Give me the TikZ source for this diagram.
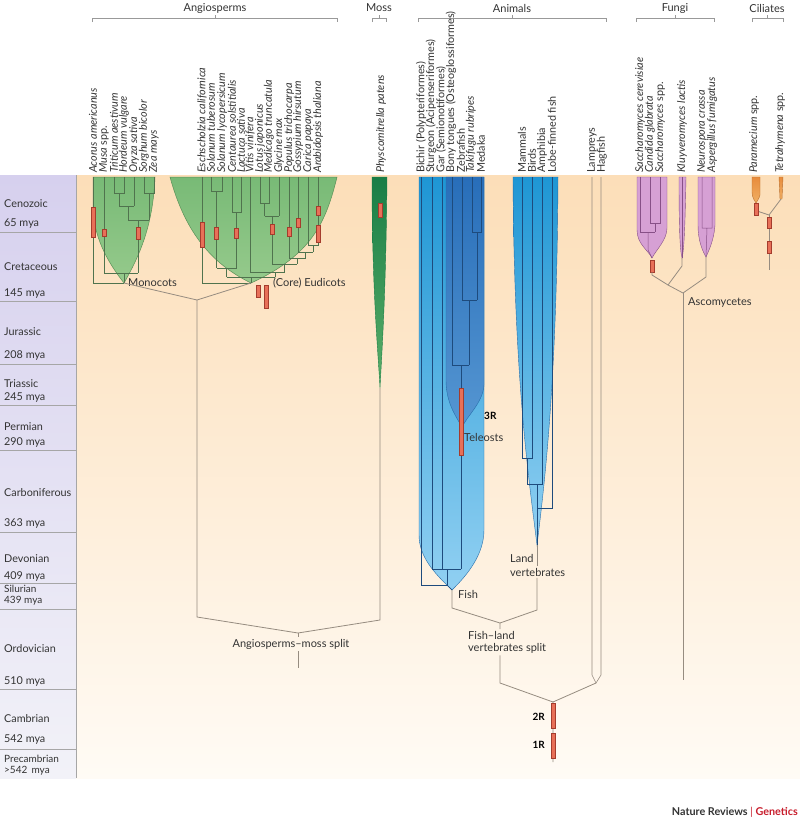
\documentclass[tikz,border=0pt]{standalone}
\usepackage{fontspec}
\setmainfont{Lato}
\begin{document}
\begin{tikzpicture}[x=1pt,y=-1pt,
  conn/.style={draw=conn, line width=0.8pt},
  gtree/.style={draw=grline, line width=0.5pt},
  btree/.style={draw=blline, line width=0.5pt},
  ptree/.style={draw=pinkdraw, line width=0.5pt},
  dupbar/.style={fill=barc, draw=bardraw, line width=0.4pt},
  sp/.style={rotate=90, anchor=west, inner sep=0pt, font=\fontsize{10.8}{12}\selectfont, text=txt},
  per/.style={anchor=west, inner sep=0pt, font=\fontsize{10.8}{13}\selectfont, text=txt},
  persm/.style={anchor=west, inner sep=0pt, font=\fontsize{10}{11}\selectfont, text=txt},
  grp/.style={font=\fontsize{11}{13}\selectfont, text=txt, inner sep=0pt},
  lbl/.style={font=\fontsize{11}{13}\selectfont, text=txt},
  bold/.style={font=\fontsize{10}{12}\selectfont\bfseries, text=black, inner sep=0pt},
  brk/.style={draw=gray!80, line width=0.6pt}]
\definecolor{txt}{RGB}{51,51,51}
\definecolor{conn}{RGB}{150,140,128}
\definecolor{grtop}{RGB}{120,186,118}
\definecolor{grbot}{RGB}{150,202,140}
\definecolor{grline}{RGB}{80,115,78}
\definecolor{grdraw}{RGB}{90,145,88}
\definecolor{mosstop}{RGB}{25,125,70}
\definecolor{mossbot}{RGB}{90,175,105}
\definecolor{bluetop}{RGB}{30,150,212}
\definecolor{bluebot}{RGB}{145,208,242}
\definecolor{bluedraw}{RGB}{40,110,170}
\definecolor{teltop}{RGB}{40,110,185}
\definecolor{telbot}{RGB}{85,150,210}
\definecolor{blline}{RGB}{30,75,125}
\definecolor{pinkfill}{RGB}{214,160,212}
\definecolor{pinkdraw}{RGB}{135,80,135}
\definecolor{ortop}{RGB}{232,140,60}
\definecolor{orbot}{RGB}{240,175,100}
\definecolor{barc}{RGB}{232,112,88}
\definecolor{bardraw}{RGB}{165,60,45}
\definecolor{peachtop}{RGB}{252,222,184}
\definecolor{peachbot}{RGB}{255,251,245}
\definecolor{lavtop}{RGB}{214,208,238}
\definecolor{lavbot}{RGB}{242,242,248}
\definecolor{nrred}{RGB}{200,30,45}
\newcommand{\dbar}[3]{\draw[dupbar] ({#1-2},#2) rectangle ({#1+2},#3);}
\useasboundingbox (0,0) rectangle (800,820);
\fill[white] (0,0) rectangle (800,820);
% background
\shade[top color=peachtop, bottom color=peachbot] (76,175) rectangle (800,778);
\shade[top color=lavtop, bottom color=lavbot] (0,175) rectangle (76,778);
\draw[gray!70, line width=0.6pt] (76,175) -- (76,778);
\foreach \yy in {232,301,364,405,450,532,583,609,689,749}
  \draw[gray!70, line width=0.6pt] (0,\yy) -- (76,\yy);
% period labels
\node[per] (p1) at (4,204) {Cenozoic};
\node[per] (p1b) at (4,224) {65 mya};
\node[per] (p2) at (4,267) {Cretaceous};
\node[per] (p2b) at (4,294) {145 mya};
\node[per] (p3) at (4,332) {Jurassic};
\node[per] (p3b) at (4,356) {208 mya};
\node[per] (p4) at (4,384) {Triassic};
\node[per] (p4b) at (4,398) {245 mya};
\node[per] (p5) at (4,427) {Permian};
\node[per] (p5b) at (4,443) {290 mya};
\node[per] (p6) at (4,493) {Carboniferous};
\node[per] (p6b) at (4,524) {363 mya};
\node[per] (p7) at (4,559) {Devonian};
\node[per] (p7b) at (4,577) {409 mya};
\node[persm] (p8) at (4,589) {Silurian};
\node[persm] (p8b) at (4,600.5) {439 mya};
\node[per] (p9) at (4,649) {Ordovician};
\node[per] (p9b) at (4,682) {510 mya};
\node[per] (p10) at (4,719) {Cambrian};
\node[per] (p10b) at (4,740) {542 mya};
\node[persm] (p11) at (4,759) {Precambrian};
\node[persm] (p11b) at (4,771) {>542\, mya};
% group brackets
\node[grp] (gA) at (215,8) {Angiosperms};
\draw[brk] (92,22) -- (92,18) -- (337,18) -- (337,22) (215,18) -- (215,15);
\node[grp] (gM) at (379,8) {Moss};
\draw[brk] (372,22) -- (372,18) -- (386,18) -- (386,22) (379,18) -- (379,15);
\node[grp] (gN) at (512,8) {Animals};
\draw[brk] (418,22) -- (418,18) -- (606,18) -- (606,22) (512,18) -- (512,15);
\node[grp] (gF) at (675,8) {Fungi};
\draw[brk] (636,22) -- (636,18) -- (714,18) -- (714,22) (675,18) -- (675,15);
\node[grp] (gC) at (767,8) {Ciliates};
\draw[brk] (752,22) -- (752,18) -- (783,18) -- (783,22) (767,18) -- (767,15);
% species labels
\node[sp] (s1) at (93,173) {\itshape Acorus americanus};
\node[sp] (s2) at (104,173) {\itshape Musa \upshape spp.};
\node[sp] (s3) at (114,173) {\itshape Triticum aestivum};
\node[sp] (s4) at (124,173) {\itshape Hordeum vulgare};
\node[sp] (s5) at (134,173) {\itshape Oryza sativa};
\node[sp] (s6) at (144,173) {\itshape Sorghum bicolor};
\node[sp] (s7) at (154,173) {\itshape Zea mays};
\node[sp] (e1) at (202,173) {\itshape Eschscholzia californica};
\node[sp] (e2) at (211,173) {\itshape Solanum tuberosum};
\node[sp] (e3) at (222,173) {\itshape Solanum lycopersicum};
\node[sp] (e4) at (232,173) {\itshape Centaurea solstitialis};
\node[sp] (e5) at (241,173) {\itshape Lactuca sativa};
\node[sp] (e6) at (250,173) {\itshape Vitis vinifera};
\node[sp] (e7) at (260,173) {\itshape Lotus japonicus};
\node[sp] (e8) at (269,173) {\itshape Medicago truncatula};
\node[sp] (e9) at (279,173) {\itshape Glycine max};
\node[sp] (e10) at (289,173) {\itshape Populus trichocarpa};
\node[sp] (e11) at (298,173) {\itshape Gossypium hirsutum};
\node[sp] (e12) at (308,173) {\itshape Carica papaya};
\node[sp] (e13) at (318,173) {\itshape Arabidopsis thaliana};
\node[sp] (m1) at (381,173) {\itshape Physcomitrella patens};
\node[sp] (f1) at (421,173) {Bichir (Polypteriformes)};
\node[sp] (f2) at (431,173) {Sturgeon (Acipenseriformes)};
\node[sp] (f3) at (441,173) {Gar (Semionotiformes)};
\node[sp] (f4) at (451,173) {Bony tongues (Osteoglossiformes)};
\node[sp] (f5) at (461,173) {Zebrafish};
\node[sp] (f6) at (471,173) {\itshape Takifugu rubripes};
\node[sp] (f7) at (481,173) {Medaka};
\node[sp] (l1) at (522,173) {Mammals};
\node[sp] (l2) at (532,173) {Birds};
\node[sp] (l3) at (542,173) {Amphibia};
\node[sp] (l4) at (552,173) {Lobe-finned fish};
\node[sp] (j1) at (592,173) {Lampreys};
\node[sp] (j2) at (602,173) {Hagfish};
\node[sp] (u1) at (640,173) {\itshape Saccharomyces cerevisiae};
\node[sp] (u2) at (650,173) {\itshape Candida glabrata};
\node[sp] (u3) at (660,173) {\itshape Saccharomyces \upshape spp.};
\node[sp] (u4) at (682,173) {\itshape Kluyveromyces lactis};
\node[sp] (u5) at (702,173) {\itshape Neurospora crassa};
\node[sp] (u6) at (712,173) {\itshape Aspergillus fumigatus};
\node[sp] (c1) at (754,173) {\itshape Paramecium \upshape spp.};
\node[sp] (c2) at (780,173) {\itshape Tetrahymena \upshape spp.};
% ---------- angiosperms
\coordinate (monotip) at (124,283);
\coordinate (eutip) at (251,283);
\shade[top color=grtop, bottom color=grbot, draw=grdraw, line width=0.5pt]
  (93,177) -- (155,177) .. controls (153,225) and (140,255) .. (monotip)
  .. controls (106,260) and (93,235) .. (93,205) -- cycle;
\shade[top color=grtop, bottom color=grbot, draw=grdraw, line width=0.5pt]
  (170,177) -- (337,177) .. controls (326,222) and (312,255) .. (eutip)
  .. controls (208,262) and (184,228) .. (170,177) -- cycle;
% monocot tree
\draw[gtree] (93,177) -- (93,283) -- (monotip);
\draw[gtree] (104,177) -- (104,273) -- (138,273) (124,273) -- (monotip);
\draw[gtree] (114,177) -- (114,193) -- (124,193) -- (124,177) (119,193) -- (119,206);
\draw[gtree] (134,177) -- (134,206) (119,206) -- (134,206) (128,206) -- (128,220);
\draw[gtree] (144,177) -- (144,193) -- (154,193) -- (154,177) (149,193) -- (149,220);
\draw[gtree] (128,220) -- (149,220) (138,220) -- (138,273);
% eudicot tree
\draw[gtree] (202,177) -- (202,283) -- (eutip);
\draw[gtree] (211,177) -- (211,191) -- (222,191) -- (222,177) (216.5,191) -- (216.5,268);
\draw[gtree] (232,177) -- (232,212) -- (241,212) -- (241,177) (236.5,212) -- (236.5,268);
\draw[gtree] (216.5,268) -- (236.5,268) (226.5,268) -- (226.5,277);
\draw[gtree] (250,177) -- (250,272);
\draw[gtree] (260,177) -- (260,203) -- (269,203) -- (269,177) (264.5,203) -- (264.5,216);
\draw[gtree] (279,177) -- (279,216) (264.5,216) -- (279,216) (272,216) -- (272,264);
\draw[gtree] (308,177) -- (308,245) -- (318,245) -- (318,177) (313,245) -- (313,252);
\draw[gtree] (298,177) -- (298,252) -- (313,252) (305.5,252) -- (305.5,258);
\draw[gtree] (289,177) -- (289,258) -- (305.5,258) (297,258) -- (297,264);
\draw[gtree] (272,264) -- (297,264) (284.5,264) -- (284.5,272);
\draw[gtree] (250,272) -- (284.5,272) (275,272) -- (275,277);
\draw[gtree] (226.5,277) -- (275,277) (251,277) -- (eutip);
\dbar{93}{207}{237} \dbar{104}{229}{236} \dbar{138}{227}{239}
\dbar{202}{222}{247} \dbar{216.5}{227}{239} \dbar{236.5}{228}{238}
\dbar{272}{224}{234} \dbar{289}{227}{236} \dbar{298}{218}{227}
\dbar{318}{206}{215} \dbar{318}{225}{242}
\dbar{258}{285}{297} \dbar{266}{285}{308}
\node[lbl, anchor=west, inner sep=0pt] (monol) at (128,283) {Monocots};
\node[lbl, anchor=west, inner sep=0pt] (eul) at (273,283) {(Core) Eudicots};
% moss
\coordinate (mosstip) at (380,388);
\shade[top color=mosstop, bottom color=mossbot, draw=mosstop, line width=0.4pt]
  (372,177) -- (387,177) .. controls (386,290) and (382,350) .. (mosstip)
  .. controls (378,350) and (372,290) .. (372,177) -- cycle;
\dbar{380}{203}{217}
% angiosperm connectors
\coordinate (angj) at (197,300);
\coordinate (angb) at (197,617);
\coordinate (mossb) at (380,620);
\coordinate (amj) at (298,633);
\coordinate (amend) at (298,668);
\node[lbl, inner sep=2pt] (amlbl) at (291,644) {Angiosperms–moss split};
\draw[conn] (monotip) -- (angj) -- (angb) -- (amj) -- (mossb) -- (mosstip);
\draw[conn] (eutip) -- (angj);
\draw[conn] (amj) -- (amj |- amlbl.north) (amj |- amlbl.south) -- (amend);
% ---------- fish
\coordinate (fishtip) at (452,590);
\shade[top color=bluetop, bottom color=bluebot, draw=bluedraw, line width=0.4pt]
  (419,177) -- (484,177) -- (484,530) .. controls (484,558) and (462,580) .. (fishtip)
  .. controls (440,578) and (419,560) .. (419,535) -- cycle;
\shade[top color=teltop, bottom color=telbot, draw=bluedraw, line width=0.4pt]
  (446,177) -- (484,177) -- (484,385) .. controls (483,402) and (468,415) .. (462,427)
  .. controls (455,415) and (446,402) .. (446,380) -- cycle;
\draw[btree] (421,177) -- (421,585) -- (447,585) -- (447,569);
\draw[btree] (432,177) -- (432,569) -- (461,569);
\draw[btree] (442,177) -- (442,569);
\draw[btree] (472,177) -- (472,232) -- (481,232) -- (481,177) (477,232) -- (477,300);
\draw[btree] (462,177) -- (462,300) -- (477,300) (469,300) -- (469,365);
\draw[btree] (452,177) -- (452,365) -- (469,365) (461,365) -- (461,569);
\draw[btree] (447,585) -- (fishtip);
\dbar{461}{388}{455}
\node[bold, anchor=west] (r3) at (484,416) {3R};
\node[lbl, anchor=west, inner sep=0pt] (telol) at (464,437) {Teleosts};
\node[lbl, anchor=west, inner sep=0pt] (fishl) at (458,594) {Fish};
% ---------- land vertebrates
\coordinate (landtip) at (537,545);
\shade[top color=bluetop, bottom color=bluebot, draw=bluedraw, line width=0.4pt]
  (513,177) -- (558,177) .. controls (557,380) and (545,480) .. (landtip)
  .. controls (529,480) and (514,380) .. (513,177) -- cycle;
\draw[btree] (522,177) -- (522,458) -- (532,458) -- (532,177) (527,458) -- (527,484);
\draw[btree] (542,177) -- (542,484) -- (527,484) (537,484) -- (landtip);
\draw[btree] (552,177) -- (552,508) -- (537,508);
\node[lbl, anchor=west, inner sep=0pt] (landl) at (510,558) {Land};
\node[lbl, anchor=west, inner sep=1.5pt] (vertl) at (508.5,572) {vertebrates};
% fish-land split
\coordinate (fishb) at (452,608);
\coordinate (landb) at (537,610);
\coordinate (flj) at (500,623);
\coordinate (flb) at (500,683);
\coordinate (animroot) at (553,702);
\node[lbl, anchor=north west, align=left, inner sep=2pt] (fll) at (466,629) {Fish–land\\[-1pt]vertebrates split};
\draw[conn] (fishtip) -- (fishb) -- (flj) -- (landb) -- (landtip |- vertl.south);
\draw[conn] (landtip) -- (landtip |- vertl.north);
\draw[conn] (flj) -- (flj |- fll.north) (flj |- fll.south) -- (flb) -- (animroot);
% lampreys and hagfish
\coordinate (lampj) at (596,683);
\draw[conn, line width=0.6pt] (592,177) -- (592,675) -- (lampj) -- (601,675) -- (601,177);
\draw[conn] (lampj) -- (animroot) -- (553,762);
\dbar{553}{703}{728} \dbar{553}{733}{758}
\node[bold, anchor=east] (r2) at (545,717) {2R};
\node[bold, anchor=east] (r1) at (545,745) {1R};
% ---------- fungi
\coordinate (sactip) at (652,258);
\coordinate (klutip) at (682,258);
\coordinate (neutip) at (706,257);
\path[fill=pinkfill, draw=pinkdraw, line width=0.4pt]
  (637,177) -- (667,177) -- (667,228) .. controls (667,240) and (656,250) .. (sactip)
  .. controls (648,250) and (637,244) .. (637,230) -- cycle;
\path[fill=pinkfill, draw=pinkdraw, line width=0.4pt]
  (679,177) -- (686,177) .. controls (685,230) and (684,250) .. (klutip)
  .. controls (680,250) and (679,230) .. (679,177) -- cycle;
\path[fill=pinkfill, draw=pinkdraw, line width=0.4pt]
  (698,177) -- (715,177) -- (715,225) .. controls (714,240) and (709,250) .. (neutip)
  .. controls (702,250) and (698,240) .. (698,225) -- cycle;
\draw[ptree] (640,177) -- (640,232) -- (655,232);
\draw[ptree] (650,177) -- (650,223) -- (660,223) -- (660,177) (655,223) -- (655,232);
\draw[ptree] (648,232) -- (648,250) -- (sactip);
\draw[ptree] (682,177) -- (klutip);
\draw[ptree] (702,177) -- (702,228) -- (712,228) -- (712,177) (707,228) -- (neutip);
\dbar{652}{260}{272}
\coordinate (fj1) at (668,285);
\coordinate (fj2) at (683,293);
\draw[conn] (652,272) -- (652,275) -- (fj1) -- (682,266) -- (klutip);
\draw[conn] (fj1) -- (fj2) -- (706,277) -- (neutip);
\draw[conn] (fj2) -- (683,680);
\node[lbl, anchor=west, inner sep=0pt] (ascl) at (688,302) {Ascomycetes};
% ---------- ciliates
\coordinate (partip) at (756,203);
\coordinate (cj) at (769,215);
\shade[top color=ortop, bottom color=orbot, draw=ortop!80!black, line width=0.4pt]
  (752,177) -- (760,177) -- (760,195) .. controls (759,199) and (757,201) .. (partip)
  .. controls (755,201) and (752,198) .. (752,192) -- cycle;
\shade[top color=ortop, bottom color=orbot, draw=ortop!80!black, line width=0.4pt]
  (779,177) -- (783,177) -- (782,199) -- (780,199) -- cycle;
\draw[conn] (757,211) -- (cj) -- (781,199);
\draw[conn] (cj) -- (769,270);
\dbar{756}{203}{215}
\dbar{769}{217}{228} \dbar{769}{241}{253}
% credit
\node[anchor=east, inner sep=0pt, font=\fontsize{10.8}{12}\selectfont\bfseries] (credit) at (798,812)
  {\textcolor{txt}{Nature Reviews} \textcolor{nrred}{\mdseries|} \textcolor{nrred}{Genetics}};
\end{tikzpicture}
\end{document}
